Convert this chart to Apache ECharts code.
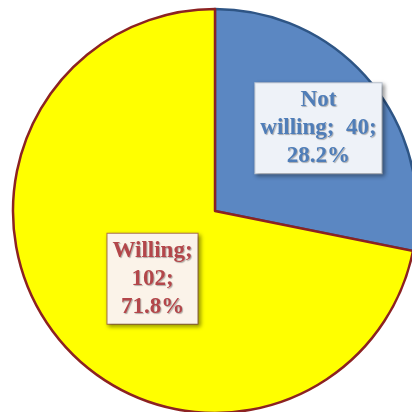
<!DOCTYPE html>
<html><head><meta charset="utf-8">
<script src="https://cdn.jsdelivr.net/npm/echarts@6/dist/echarts.min.js"></script>
<style>html,body{margin:0;padding:0;background:#fff}#c{width:412px;height:412px}</style>
</head><body><div id="c"></div>
<script>
const categories = ['Not willing', 'Willing'];
const values = [40, 102];
const sliceColors = ['#5b87c2', '#ffff00'];

const chart = echarts.init(document.getElementById('c'));
const labelStyles = [
  {color:'#4f7db8', backgroundColor:'#eef2f8', borderColor:'#c3ccd8', offset:[23,-17]},
  {color:'#b3464a', backgroundColor:'#fbf3e9', borderColor:'#b0754a', offset:[18,2]}
];
const data = categories.map((n,i)=>({
  name:n, value:values[i],
  itemStyle:{color:sliceColors[i], borderColor: i===0 ? '#2e5585' : '#8c2222', borderWidth:2.5},
  label:{
    color:labelStyles[i].color,
    backgroundColor:labelStyles[i].backgroundColor,
    borderColor:labelStyles[i].borderColor,
    offset:labelStyles[i].offset
  }
}));
chart.setOption({
  animation:false,
  series:[{
    type:'pie',
    center:[215,211],
    radius:[0,202],
    startAngle:90,
    clockwise:true,
    percentPrecision:1,
    emphasis:{disabled:true},
    data:data,
    label:{
      show:true,
      position:'inside',
      fontFamily:'Liberation Serif',
      fontWeight:'bold',
      fontSize:23,
      lineHeight:28,
      align:'center',
      borderWidth:1,
      padding:[3,5,3,5],
      shadowColor:'rgba(0,0,0,0.35)',
      shadowBlur:4,
      shadowOffsetX:2,
      shadowOffsetY:2,
      textShadowColor:'rgba(0,0,0,0.3)',
      textShadowBlur:1,
      textShadowOffsetX:1,
      textShadowOffsetY:1,
      formatter:function(p){
        const name = p.dataIndex===0 ? p.name.replace(' ', '\n') : p.name;
        const sep = p.dataIndex===0 ? ';  ' : ';\n';
        return name + sep + p.value + ';\n' + p.percent + '%';
      }
    },
    labelLine:{show:false}
  }]
});
</script></body></html>
